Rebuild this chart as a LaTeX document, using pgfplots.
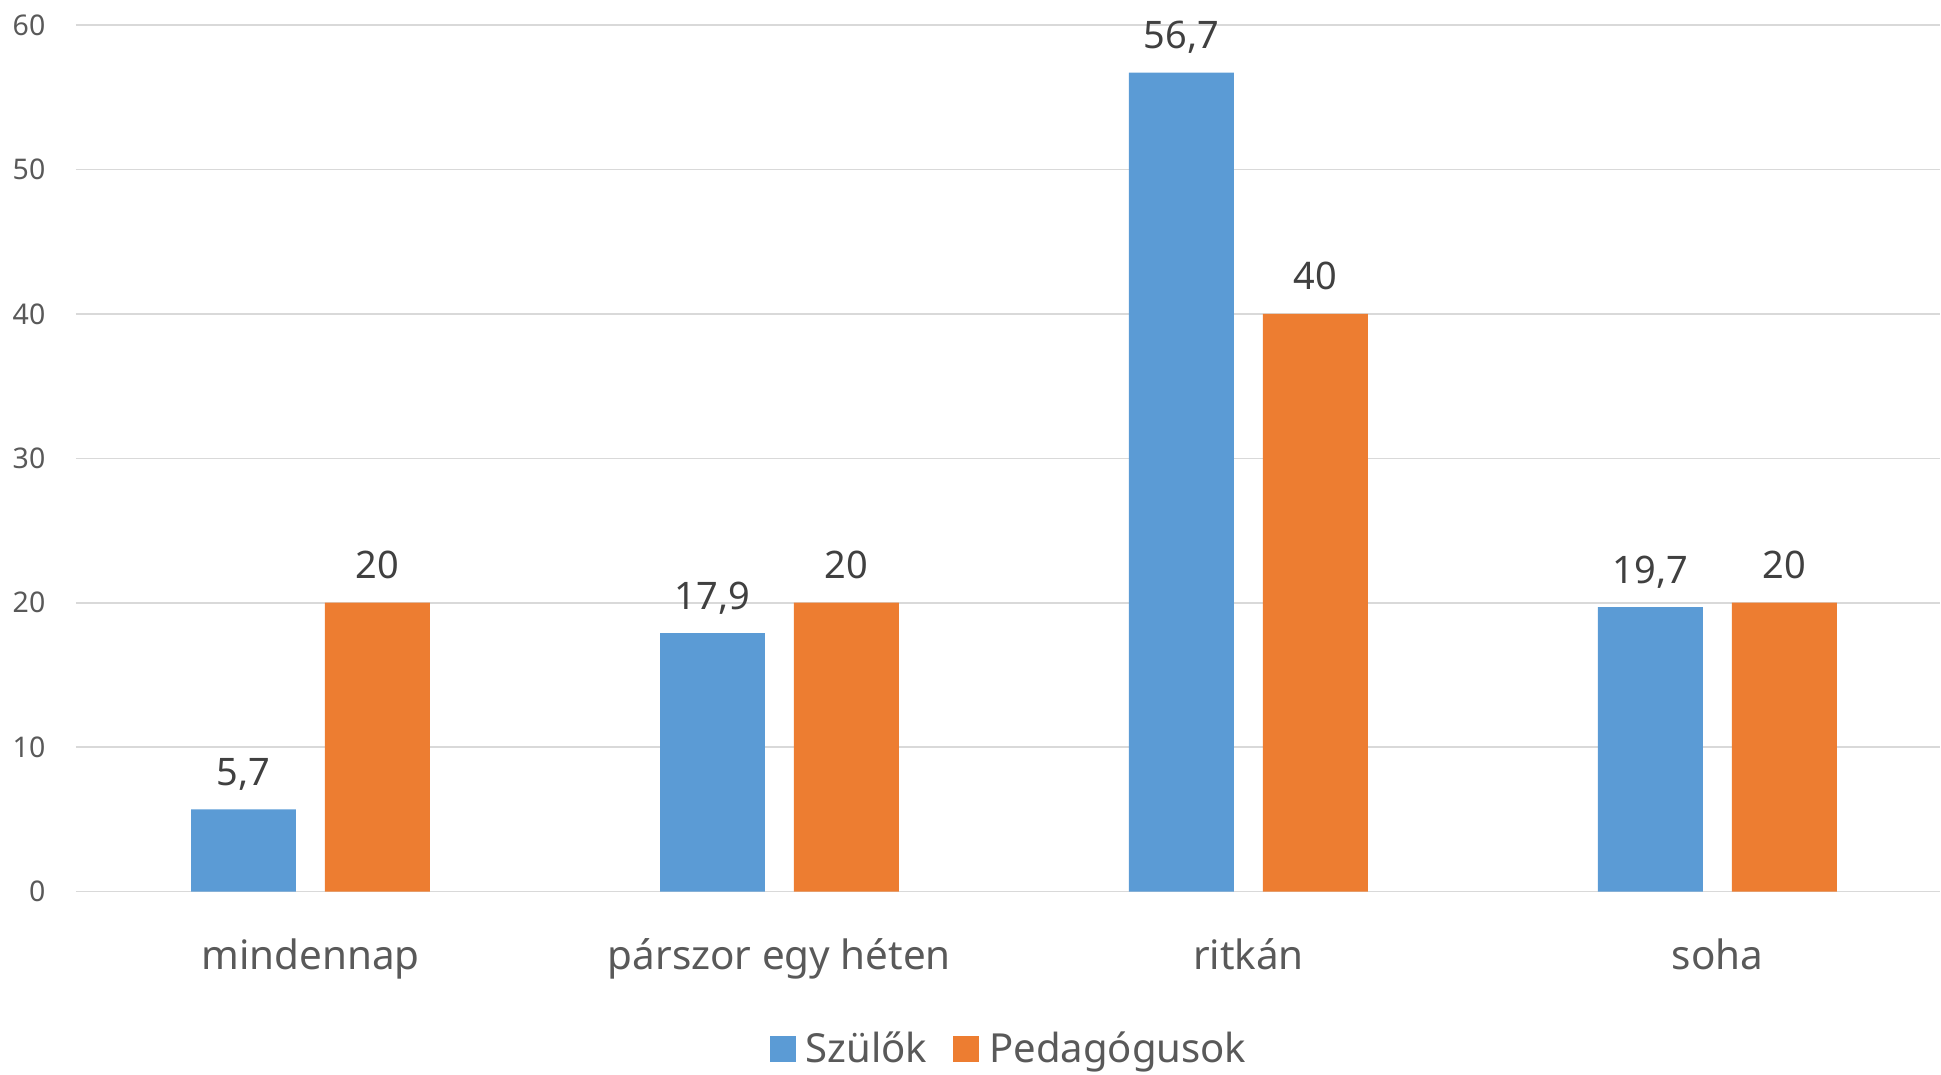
\documentclass[border=0pt]{standalone}
\usepackage{pgfplots}
\pgfplotsset{compat=1.18}
\usepackage{fontspec}
\setmainfont{Noto Sans}
\definecolor{cblue}{HTML}{5B9BD5}
\definecolor{corange}{HTML}{ED7D31}
\definecolor{cgrid}{HTML}{D9D9D9}
\definecolor{ctext}{HTML}{595959}
\definecolor{clabel}{HTML}{404040}
\begin{document}
\begin{tikzpicture}
\begin{axis}[
  name=ax,
  scale only axis,
  width=186.5mm, height=86.7mm,
  xmin=-0.5, xmax=3.475,
  ymin=0, ymax=60,
  ytick={0,10,...,60},
  xtick={0,1,2,3},
  xticklabels={mindennap, párszor egy héten, ritkán, soha},
  ymajorgrids,
  grid style={cgrid, line width=0.45pt},
  axis line style={draw=none},
  major tick length=0pt,
  /pgf/number format/assume math mode=true,
  /pgf/number format/use comma,
  yticklabel style={font=\fontsize{8.1}{10}\selectfont, text=ctext, anchor=east, inner sep=0pt, xshift=-3mm},
  xticklabel style={font=\fontsize{11.5}{13}\selectfont, text=ctext, anchor=base, inner sep=0pt, yshift=-7.8mm},
  ybar, bar width=10.5mm,
  nodes near coords,
  every node near coord/.append style={font=\fontsize{10.8}{12}\selectfont, text=clabel, anchor=base, inner sep=0pt, yshift=2.4mm},
  legend columns=2,
  legend style={at={(0.5,-0.182)}, anchor=center, draw=none, fill=none,
    font=\fontsize{11.4}{13}\selectfont, text=ctext,
    nodes={inner sep=0pt},
    /tikz/every odd column/.append style={column sep=1.0mm},
    /tikz/every even column/.append style={column sep=2.6mm}},
  legend image code/.code={\fill[#1] (0mm,-1.3mm) rectangle (2.6mm,1.3mm);},
]
\addplot[fill=cblue, draw=none, bar shift=-6.7mm] coordinates {(0,5.7) (1,17.9) (2,56.7) (3,19.7)};
\addlegendentry{Szülők}
\addplot[fill=corange, draw=none, bar shift=6.7mm] coordinates {(0,20) (1,20) (2,40) (3,20)};
\addlegendentry{Pedagógusok}
\end{axis}
\path ([xshift=-7.6mm,yshift=-18.3mm]ax.south west) rectangle ([yshift=2.5mm]ax.north east);
\end{tikzpicture}
\end{document}
